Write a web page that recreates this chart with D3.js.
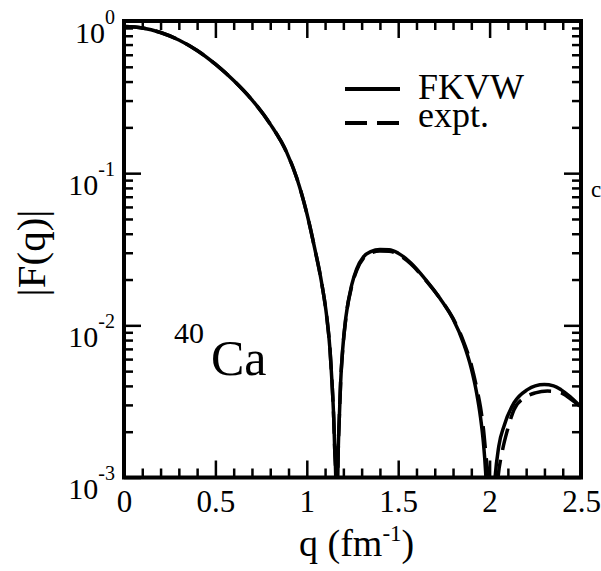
<!DOCTYPE html>
<html>
<head>
<meta charset="utf-8">
<script src="https://cdn.jsdelivr.net/npm/d3@7"></script>
<style>
  body { margin: 0; background: #fff; }
  text { font-family: "Liberation Serif", "Times New Roman", serif; fill: #000; }
</style>
</head>
<body>
<svg id="chart" width="601" height="571"></svg>
<script>
// |F(q)|
var qFKVW = [0.00, 0.10, 0.20, 0.30, 0.40, 0.50, 0.60, 0.70, 0.80, 0.89, 0.945, 1.00, 1.045, 1.0815, 1.109, 1.127, 1.138, 1.147, 1.153, 1.158, 1.164, 1.170, 1.178, 1.185, 1.196, 1.214, 1.246, 1.273, 1.31, 1.35, 1.40, 1.45, 1.50, 1.568, 1.65, 1.729, 1.80, 1.856, 1.90, 1.929, 1.95, 1.966, 1.978, 1.99, 2.003, 2.015, 2.03, 2.05, 2.08, 2.134, 2.207, 2.25, 2.299, 2.35, 2.39, 2.44, 2.50];
var fFKVW = [0.92, 0.90, 0.84, 0.75, 0.64, 0.52, 0.406, 0.303, 0.21, 0.137, 0.093, 0.0545, 0.0313, 0.0189, 0.0114, 0.0069, 0.0042, 0.0025, 0.0015, 0.00105, 0.0002, 0.0011, 0.0025, 0.0042, 0.0069, 0.0114, 0.0185, 0.0235, 0.0282, 0.0305, 0.0315, 0.0314, 0.0298, 0.0258, 0.0200, 0.0150, 0.0110, 0.0077, 0.0052, 0.0036, 0.0025, 0.0017, 0.0011, 0.0005, 0.0001, 0.0005, 0.0010, 0.0016, 0.0022, 0.0031, 0.00378, 0.0040, 0.00408, 0.0040, 0.00378, 0.0034, 0.0029];

var qExpt = [0.00, 0.10, 0.20, 0.30, 0.40, 0.50, 0.60, 0.70, 0.80, 0.89, 0.945, 1.00, 1.045, 1.0815, 1.109, 1.127, 1.138, 1.147, 1.153, 1.158, 1.164, 1.170, 1.178, 1.185, 1.196, 1.214, 1.246, 1.273, 1.31, 1.35, 1.40, 1.45, 1.50, 1.568, 1.65, 1.729, 1.80, 1.856, 1.90, 1.929, 1.95, 1.966, 1.98, 1.991, 2.00, 2.012, 2.025, 2.035, 2.046, 2.07, 2.098, 2.134, 2.189, 2.25, 2.317, 2.39, 2.44, 2.50];
var fExpt = [0.92, 0.90, 0.84, 0.75, 0.64, 0.52, 0.406, 0.303, 0.21, 0.137, 0.093, 0.0545, 0.0313, 0.0189, 0.0114, 0.0069, 0.0042, 0.0025, 0.0015, 0.00105, 0.0002, 0.0011, 0.0025, 0.0042, 0.0068, 0.0112, 0.0181, 0.0230, 0.0276, 0.0298, 0.0308, 0.0307, 0.0292, 0.0254, 0.0198, 0.0150, 0.0111, 0.0079, 0.0055, 0.0039, 0.0029, 0.0021, 0.0014, 0.0010, 0.0005, 0.0001, 0.0004, 0.0007, 0.0010, 0.0015, 0.00206, 0.0028, 0.00333, 0.0036, 0.0037, 0.0036, 0.0033, 0.0029];

var xTickValues = [0, 0.5, 1, 1.5, 2, 2.5];
var xTickLabels = ["0", "0.5", "1", "1.5", "2", "2.5"];
var yTickValues = [1, 0.1, 0.01, 0.001];
var yTickExponents = ["0", "-1", "-2", "-3"];
var legendLabels = ["FKVW", "expt."];

var pLeft = 124, pRight = 581, pTop = 21, pBottom = 477.5;

var svg = d3.select("#chart");

var x = d3.scaleLinear().domain([0, 2.5]).range([pLeft, pRight]);
var y = d3.scaleLog().domain([1e-3, 1]).range([pBottom, pTop]);

// minor tick positions
var xMinor = d3.range(0, 25).map(function(i) { return i / 10; }).filter(function(v) { return Math.round(v * 10) % 5 !== 0; });
var yMinor = [];
[-3, -2, -1].forEach(function(e) {
    for (var m = 2; m <= 9; m++) yMinor.push(m * Math.pow(10, e));
});

svg.append("clipPath").attr("id", "plot")
    .append("rect")
    .attr("x", pLeft).attr("y", pTop)
    .attr("width", pRight - pLeft).attr("height", pBottom - pTop);

var line = d3.line()
    .x(function(d) { return x(d[0]); })
    .y(function(d) { return y(d[1]); })
    .curve(d3.curveMonotoneX);

var fkvw = qFKVW.map(function(q, i) { return [q, fFKVW[i]]; });
var expt = qExpt.map(function(q, i) { return [q, fExpt[i]]; });

svg.append("path")
    .datum(expt)
    .attr("clip-path", "url(#plot)")
    .attr("d", line)
    .attr("fill", "none")
    .attr("stroke", "#000")
    .attr("stroke-width", 3.5)
    .attr("stroke-dasharray", "22,10");

svg.append("path")
    .datum(fkvw)
    .attr("clip-path", "url(#plot)")
    .attr("d", line)
    .attr("fill", "none")
    .attr("stroke", "#000")
    .attr("stroke-width", 3.5);

function tickAxis(axis, tr) {
    var g = svg.append("g").attr("transform", tr).call(axis);
    g.select(".domain").remove();
    g.selectAll(".tick line").attr("stroke", "#000").attr("stroke-width", 2.5);
    return g;
}

// bottom
var gxb = tickAxis(d3.axisBottom(x).tickValues(xTickValues).tickSizeInner(-17).tickSizeOuter(0).tickPadding(12)
    .tickFormat(function(d, i) { return xTickLabels[i]; }), "translate(0," + pBottom + ")");
gxb.selectAll(".tick text").attr("font-size", 31).attr("font-family", "Liberation Serif");
tickAxis(d3.axisBottom(x).tickValues(xMinor).tickSizeInner(-9).tickSizeOuter(0).tickFormat(""), "translate(0," + pBottom + ")");
// top
tickAxis(d3.axisTop(x).tickValues(xTickValues).tickSizeInner(-17).tickSizeOuter(0).tickFormat(""), "translate(0," + pTop + ")");
tickAxis(d3.axisTop(x).tickValues(xMinor).tickSizeInner(-9).tickSizeOuter(0).tickFormat(""), "translate(0," + pTop + ")");

// left
var gyl = tickAxis(d3.axisLeft(y).tickValues(yTickValues).tickSizeInner(-17).tickSizeOuter(0).tickPadding(9)
    .tickFormat(function() { return ""; }), "translate(" + pLeft + ",0)");
gyl.selectAll(".tick text")
    .attr("font-family", "Liberation Serif")
    .attr("dy", null)
    .attr("y", 21)
    .each(function(d, i) {
        var t = d3.select(this);
        t.append("tspan").attr("font-size", 30).text("10");
        t.append("tspan").attr("font-size", 20).attr("dy", -19).text(yTickExponents[i]);
    });
tickAxis(d3.axisLeft(y).tickValues(yMinor).tickSizeInner(-9).tickSizeOuter(0).tickFormat(""), "translate(" + pLeft + ",0)");
// right
tickAxis(d3.axisRight(y).tickValues(yTickValues).tickSizeInner(-17).tickSizeOuter(0).tickFormat(""), "translate(" + pRight + ",0)");
tickAxis(d3.axisRight(y).tickValues(yMinor).tickSizeInner(-9).tickSizeOuter(0).tickFormat(""), "translate(" + pRight + ",0)");

// frame
svg.append("rect")
    .attr("x", pLeft).attr("y", pTop)
    .attr("width", pRight - pLeft).attr("height", pBottom - pTop)
    .attr("fill", "none")
    .attr("stroke", "#000")
    .attr("stroke-width", 4);

// axis titles
var xt = svg.append("text").attr("x", 299).attr("y", 556).attr("font-size", 38);
xt.append("tspan").text("q (fm");
xt.append("tspan").attr("font-size", 23).attr("dy", -15).text("-1");
xt.append("tspan").attr("dy", 15).text(")");

svg.append("text")
    .attr("transform", "translate(45,253) rotate(-90)")
    .attr("text-anchor", "middle")
    .attr("font-size", 41)
    .text("|F(q)|");

// legend
legendLabels.forEach(function(lab, i) {
    var ly = 89 + i * 34;
    svg.append("line")
        .attr("x1", 345).attr("x2", 400)
        .attr("y1", ly).attr("y2", ly)
        .attr("stroke", "#000")
        .attr("stroke-width", 4)
        .attr("stroke-dasharray", i === 0 ? null : "22,10");
    svg.append("text")
        .attr("x", 418).attr("y", i === 0 ? 99 : 127)
        .attr("font-size", 36)
        .text(lab);
});

// nucleus label
svg.append("text").attr("x", 174).attr("y", 343).attr("font-size", 30).text("40");
svg.append("text").attr("x", 211).attr("y", 375).attr("font-size", 50).text("Ca");

// stray mark at the right edge
svg.append("text").attr("x", 591).attr("y", 197).attr("font-size", 23).text("c");
</script>
</body>
</html>
